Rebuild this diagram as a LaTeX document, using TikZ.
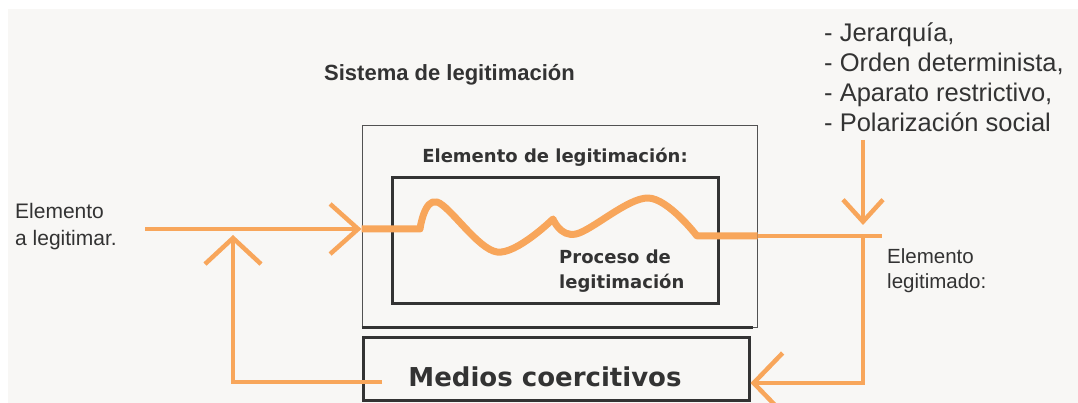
\documentclass[tikz,border=0pt]{standalone}
\usepackage{fontspec}
\setmainfont{Liberation Sans}
\newfontfamily\verdana{DejaVu Sans}
\usetikzlibrary{arrows.meta}
\definecolor{naranja}{HTML}{F8A65B}
\definecolor{tinta}{HTML}{333333}
\definecolor{fondo}{HTML}{F8F7F5}

\begin{document}
\begin{tikzpicture}[x=1pt,y=-1pt,
    flecha/.style={naranja, line width=4.5pt},
    caja/.style={draw=tinta, line width=3pt, inner sep=0pt},
    rotulo/.style={text=tinta, inner sep=0pt, align=left}]
  \useasboundingbox (0,0) rectangle (1078,403);
  \fill[white] (0,0) rectangle (1078,403);
  \fill[fondo] (8,9) rectangle (1078,403);
  % cajas
  \node[draw=tinta!85, line width=1pt, minimum width=395pt, minimum height=201pt] (sistema) at (559.5,226.5) {};
  \draw[tinta, line width=2.2pt] (sistema.south west) -- ([xshift=-5pt]sistema.south east);
  \node[caja, minimum width=326pt, minimum height=125pt] (proceso) at (555,240.5) {};
  \node[caja, minimum width=386pt, minimum height=63pt] (medios) at (556,368.5) {};
  % textos
  \node[rotulo, font=\bfseries\fontsize{22}{26}\selectfont] (titulo) at (449.5,75) {Sistema de legitimación};
  \node[rotulo, font=\verdana\bfseries\fontsize{18}{22}\selectfont] (elemento) at (555,157) {Elemento de legitimación:};
  \node[rotulo, font=\verdana\bfseries\fontsize{18}{25}\selectfont, anchor=west] (legit) at (559,271) {Proceso de\\legitimación};
  \node[rotulo, font=\verdana\bfseries\fontsize{26}{30}\selectfont] (coercion) at (545,377) {Medios coercitivos};
  \node[rotulo, font=\fontsize{21}{27}\selectfont, anchor=west] (entrada) at (15,227) {Elemento\\a legitimar.};
  \node[rotulo, font=\fontsize{20.5}{25}\selectfont, anchor=west] (salida) at (887,271) {Elemento\\legitimado:};
  \node[rotulo, font=\fontsize{25.5}{29.7}\selectfont, anchor=north west] (rasgos) at (824,23) {- Jerarquía,\\- Orden determinista,\\- Aparato restrictivo,\\- Polarización social};
  % conectores
  \coordinate (inicio) at (145,229);
  \coordinate (cruce) at (863,236);
  \coordinate (arriba) at (863,140);
  \coordinate (retorno) at (382,382);
  \draw[flecha, -{Straight Barb[length=28pt,width=50pt]}] (inicio) -- (sistema.west |- inicio);
  \draw[naranja, line width=7pt, line join=round] (sistema.west |- inicio) -- (420,229)
    -- plot[smooth, tension=0.6] coordinates {(420,229) (437,202) (497,252) (553,219)}
    -- plot[smooth, tension=0.6] coordinates {(553,219) (576,234) (648,198) (697,236)}
    -- (sistema.east |- cruce);
  \draw[flecha] (sistema.east |- cruce) -- ([xshift=19pt]cruce);
  \draw[flecha, -{Straight Barb[length=22pt,width=40pt]}] (arriba) -- ([yshift=11pt]cruce);
  \draw[flecha, -{Straight Barb[length=29pt,width=60pt]}] (cruce) -- (cruce |- 0,383) -- (medios.east |- 0,383);
  \draw[flecha, -{Straight Barb[length=26pt,width=56pt]}] (retorno) -- (233,382) -- (233,235);
\end{tikzpicture}
\end{document}
